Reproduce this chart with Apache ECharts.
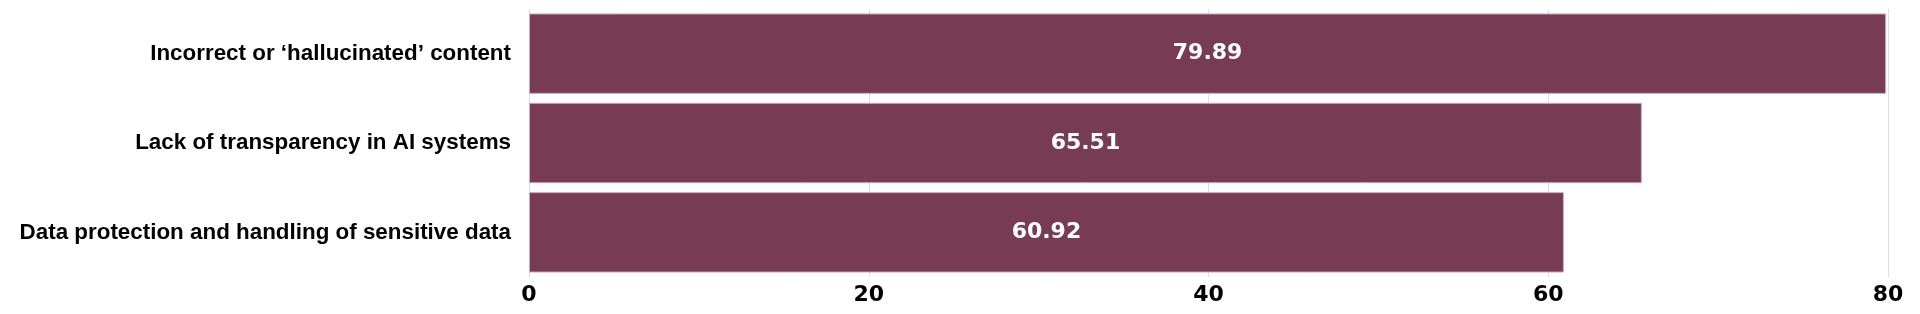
<!DOCTYPE html>
<html>
<head>
<meta charset="utf-8">
<script src="https://cdn.jsdelivr.net/npm/echarts@6/dist/echarts.min.js"></script>
<style>
html,body{margin:0;padding:0;background:#fff;}
#chart{width:1920px;height:314px;}
</style>
</head>
<body>
<div id="chart"></div>
<script>
const categories = [
  "Incorrect or \u2018hallucinated\u2019 content",
  "Lack of transparency in AI systems",
  "Data protection and handling of sensitive data"
];
const values = [79.89, 65.51, 60.92];
const tickValues = [0, 20, 40, 60, 80];

const chart = echarts.init(document.getElementById('chart'));
chart.setOption({
  animation: false,
  grid: { left: 529, right: 32, top: 9, bottom: 37, containLabel: false },
  xAxis: {
    type: 'value', min: 0, max: 80, interval: 20,
    axisLine: { show: false }, axisTick: { show: false },
    splitLine: { show: true, lineStyle: { color: '#dddddd', width: 1 } },
    axisLabel: { color: '#000', fontFamily: 'DejaVu Sans', fontWeight: 'bold', fontSize: 22, margin: 7 }
  },
  yAxis: {
    type: 'category', data: categories, inverse: true,
    axisLine: { show: false }, axisTick: { show: false },
    axisLabel: { color: '#000', fontFamily: 'Liberation Sans', fontWeight: 'bold', fontSize: 22.4, margin: 18 }
  },
  series: [{
    type: 'bar', data: values, barCategoryGap: '10%',
    itemStyle: { color: '#773c54', borderColor: '#cdaab9', borderWidth: 1 },
    label: { show: true, position: 'inside', color: '#fff', fontFamily: 'DejaVu Sans', fontWeight: 'bold', fontSize: 22,
      formatter: p => p.value.toFixed(2) }
  }]
});
</script>
</body>
</html>
